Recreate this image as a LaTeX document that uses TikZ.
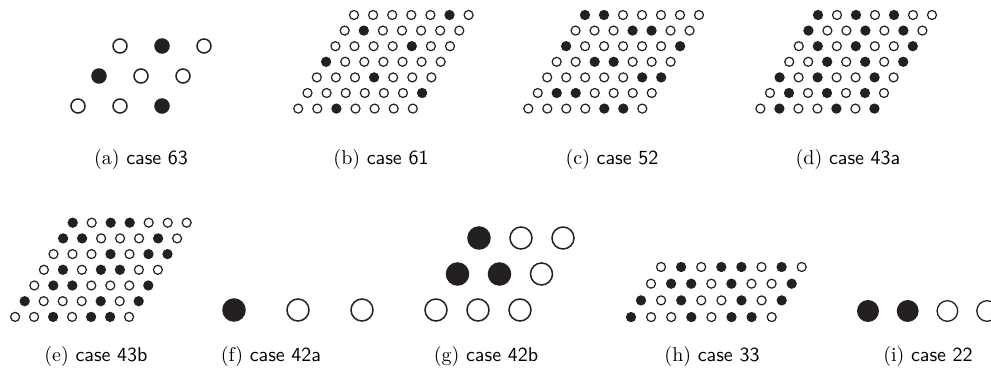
\documentclass[tikz,border=0pt]{standalone}
\usepackage{tikz}
\definecolor{dotc}{rgb}{.14,.12,.13}
\tikzset{
	dot/.style={circle,draw=dotc,line width=.6pt,inner sep=0pt},
	dot0/.style={dot,fill=white},
	dot1/.style={dot,fill=dotc},
	subcap/.style={inner sep=0pt}
}

\begin{document}
\begin{tikzpicture}[x=.5pt,y=-.5pt]
	\useasboundingbox (0,0) rectangle (991,383);
	% top row
	\foreach \row [count=\r] in {{0,1,0},{1,0,0},{0,0,1}}
		\foreach \v [count=\c] in \row
			\node[dot\v,line width=.75pt,minimum size=7pt] (a-\r-\c) at ({120+(\c-1)*42-(\r-1)*21},{46+(\r-1)*30}) {};
	\foreach \row [count=\r] in {{0,0,0,0,0,1,0},{0,1,0,0,0,0,0},{0,0,0,0,1,0,0},{1,0,0,0,0,0,0},{0,0,0,1,0,0,0},{0,0,0,0,0,0,1},{0,0,1,0,0,0,0}}
		\foreach \v [count=\c] in \row
			\node[dot\v,minimum size=4.5pt] (b-\r-\c) at ({354+(\c-1)*19.1-(\r-1)*9.3},{15+(\r-1)*15.6}) {};
	\foreach \row [count=\r] in {{1,1,0,0,0,0,0},{0,0,0,1,1,0,0},{1,0,0,0,0,0,1},{0,0,1,1,0,0,0},{0,0,0,0,0,1,1},{0,1,1,0,0,0,0},{0,0,0,0,1,1,0}}
		\foreach \v [count=\c] in \row
			\node[dot\v,minimum size=4.5pt] (c-\r-\c) at ({585+(\c-1)*19-(\r-1)*9.45},{15+(\r-1)*15.6}) {};
	\foreach \row [count=\r] in {{1,0,1,0,1,0,0},{1,0,0,1,0,1,0},{0,1,0,1,0,0,1},{0,0,1,0,1,0,1},{1,0,1,0,0,1,0},{0,1,0,1,0,1,0},{0,1,0,0,1,0,1}}
		\foreach \v [count=\c] in \row
			\node[dot\v,minimum size=4.5pt] (d-\r-\c) at ({818+(\c-1)*19-(\r-1)*9.6},{15+(\r-1)*15.6}) {};
	\node[subcap] (cap-a) at (141,160) {(a) \textsf{case 63}};
	\node[subcap] (cap-b) at (381,160) {(b) \textsf{case 61}};
	\node[subcap] (cap-c) at (612,160) {(c) \textsf{case 52}};
	\node[subcap] (cap-d) at (848,160) {(d) \textsf{case 43a}};
	% bottom row
	\foreach \row [count=\r] in {{1,0,1,1,0,0,0},{1,1,0,0,0,1,0},{0,0,0,1,0,1,1},{0,1,0,1,1,0,0},{0,1,1,0,0,0,1},{1,0,0,0,1,0,1},{0,0,1,0,1,1,0}}
		\foreach \v [count=\c] in \row
			\node[dot\v,minimum size=4.5pt] (e-\r-\c) at ({72.7+(\c-1)*19-(\r-1)*9.6},{222.7+(\r-1)*15.7}) {};
	\foreach \v [count=\c] in {1,0,0}
		\node[dot\v,line width=.75pt,minimum size=11pt] (f-\c) at ({234+(\c-1)*64},310) {};
	\foreach \row [count=\r] in {{1,0,0},{1,1,0},{0,0,0}}
		\foreach \v [count=\c] in \row
			\node[dot\v,line width=.75pt,minimum size=11pt] (g-\r-\c) at ({479+(\c-1)*42-(\r-1)*21.5},{238+(\r-1)*36}) {};
	\foreach \row [count=\r] in {{0,1,0,1,1,0,1,0},{0,1,1,0,1,0,0,1},{1,0,1,0,0,1,0,1},{1,0,0,1,0,1,1,0}}
		\foreach \v [count=\c] in \row
			\node[dot\v,minimum size=4.5pt] (h-\r-\c) at ({661+(\c-1)*20.1-(\r-1)*10},{267+(\r-1)*16.7}) {};
	\foreach \v [count=\c] in {1,1,0,0}
		\node[dot\v,line width=.65pt,minimum size=10.3pt] (i-\c) at ({868+(\c-1)*39.7},311) {};
	\node[subcap] (cap-e) at (96,357) {(e) \textsf{case 43b}};
	\node[subcap] (cap-f) at (271,357) {(f) \textsf{case 42a}};
	\node[subcap] (cap-g) at (486,357) {(g) \textsf{case 42b}};
	\node[subcap] (cap-h) at (712,357) {(h) \textsf{case 33}};
	\node[subcap] (cap-i) at (928,357) {(i) \textsf{case 22}};
\end{tikzpicture}
\end{document}
